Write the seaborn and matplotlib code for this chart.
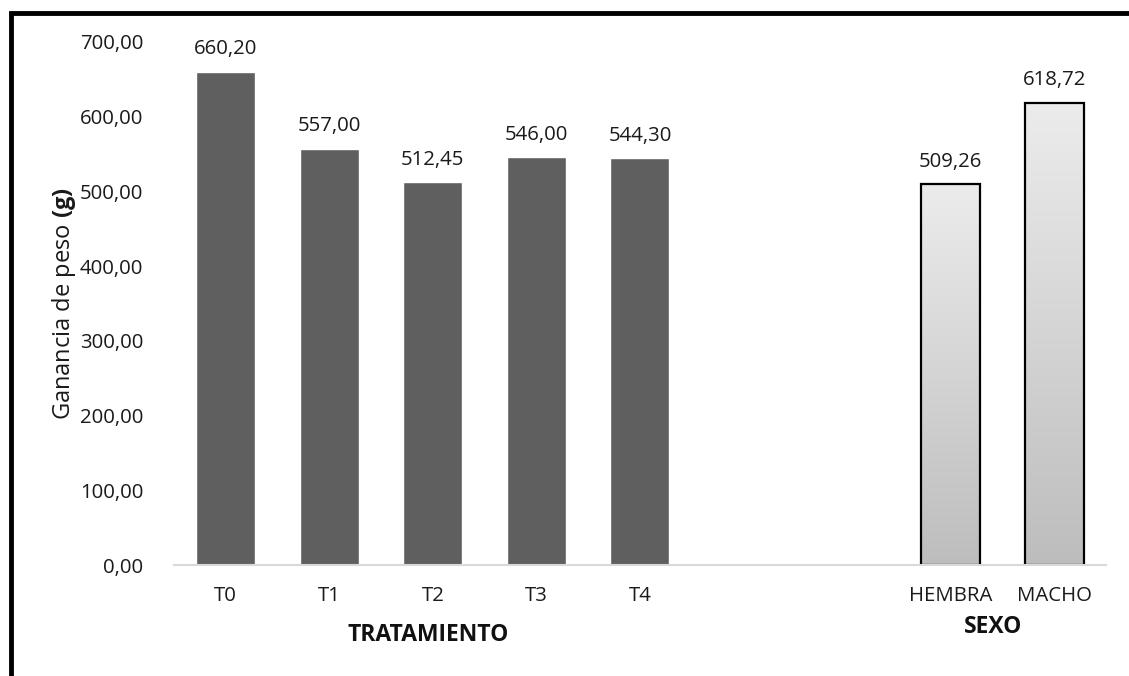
import numpy as np
import pandas as pd
import matplotlib
matplotlib.use("Agg")
import matplotlib.pyplot as plt
import seaborn as sns
from matplotlib.patches import Rectangle
from matplotlib.colors import LinearSegmentedColormap

# ---- data ----
treat_cats = ["T0", "T1", "T2", "T3", "T4"]
treat_vals = [660.20, 557.00, 512.45, 546.00, 544.30]
sex_cats = ["HEMBRA", "MACHO"]
sex_vals = [509.26, 618.72]
gap_cats = [" ", "  "]
order = treat_cats + gap_cats + sex_cats
y_ticks = [0, 100, 200, 300, 400, 500, 600, 700]

sns.set_theme(style="white")
FONT = "Open Sans"
plt.rcParams["font.family"] = [FONT, "DejaVu Sans"]
plt.rcParams["mathtext.fontset"] = "custom"
plt.rcParams["mathtext.rm"] = FONT
plt.rcParams["mathtext.bf"] = FONT + ":bold"

FS = 14.7
TXT = "#1a1a1a"

fig = plt.figure(figsize=(11.29, 6.76), dpi=100)
ax = fig.add_axes([0.1541, 0.1642, 0.9796 - 0.1541, 0.9379 - 0.1642])

df_t = pd.DataFrame({"cat": treat_cats, "val": treat_vals})
df_s = pd.DataFrame({"cat": sex_cats, "val": sex_vals})

sns.barplot(data=df_t, x="cat", y="val", order=order, color="#5f5f5f",
            saturation=1, width=0.57, ax=ax, errorbar=None)
sns.barplot(data=df_s, x="cat", y="val", order=order, color="#d9d9d9",
            saturation=1, width=0.57, ax=ax, errorbar=None,
            edgecolor="black", linewidth=1.6)

fmt = lambda v: f"{v:.2f}".replace(".", ",")
c_t = ax.containers[0]
c_s = ax.containers[-1]
ax.bar_label(c_t, labels=[fmt(v) if not np.isnan(v) else "" for v in c_t.datavalues],
             padding=9, fontsize=FS, color=TXT)
ax.bar_label(c_s, labels=[fmt(v) if not np.isnan(v) else "" for v in c_s.datavalues],
             padding=9, fontsize=FS, color=TXT)

# gradient fill on the sex bars
cmap = LinearSegmentedColormap.from_list("g", ["#bdbdbd", "#ececec"])
grad = np.linspace(0, 1, 256).reshape(-1, 1)
for p in c_s.patches:
    h = p.get_height()
    if np.isnan(h) or h == 0:
        continue
    x0, w = p.get_x(), p.get_width()
    im = ax.imshow(grad, cmap=cmap, origin="lower", aspect="auto",
                   extent=[x0, x0 + w, 0, h], zorder=p.get_zorder() - 0.01)
    im.set_clip_path(p)
    p.set_facecolor("none")
    p.set_zorder(p.get_zorder() + 0.1)

ax.set_xlim(-0.5, len(order) - 0.5)
ax.set_ylim(0, 700)
ax.set_yticks(y_ticks)
ax.set_yticklabels([fmt(v) for v in y_ticks], fontsize=FS, color=TXT)
ax.tick_params(axis="y", length=0, pad=22)
ax.tick_params(axis="x", length=0, pad=15, labelsize=FS, labelcolor=TXT)
ax.set_xlabel("")
ax.set_ylabel(r"Ganancia de peso $\mathbf{(g)}$", fontsize=17, color=TXT, labelpad=1.5)

for s in ["top", "right", "left"]:
    ax.spines[s].set_visible(False)
ax.spines["bottom"].set_color("#d9d9d9")
ax.spines["bottom"].set_linewidth(1.5)

fig.text(428 / 1129, 1 - 635 / 676, "TRATAMIENTO", fontsize=16.5, fontweight="bold",
         ha="center", va="center", color="#111111")
fig.text(993 / 1129, 1 - 627 / 676, "SEXO", fontsize=16.5, fontweight="bold",
         ha="center", va="center", color="#111111")

# outer frame (left and top visible)
fig.add_artist(Rectangle((10.5 / 1129, -0.05), 1.2, 1.05 - 13 / 676,
                         transform=fig.transFigure, fill=False,
                         edgecolor="black", linewidth=3.5))

fig.savefig("out.png", dpi=100)
